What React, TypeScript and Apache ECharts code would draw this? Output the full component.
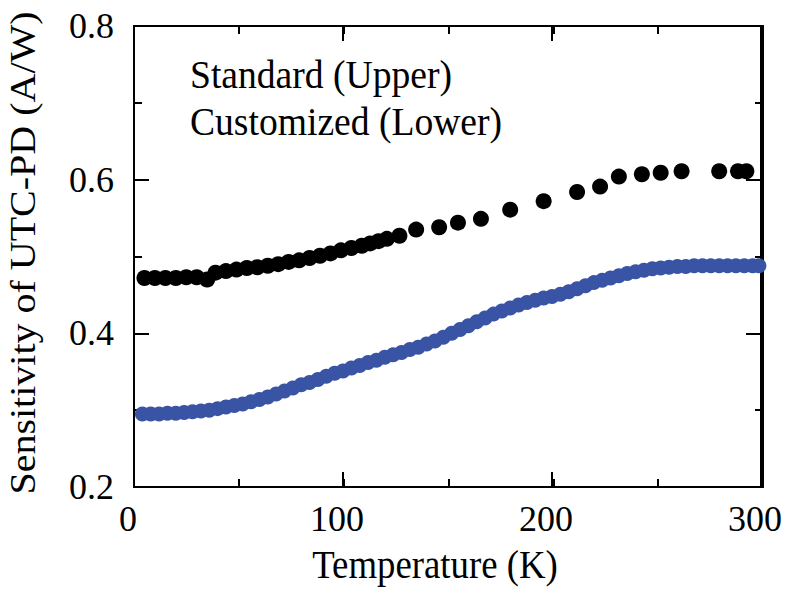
import React, { useEffect, useRef } from "react";
import * as echarts from "echarts";

const standardT = [5, 10, 15, 20, 25, 30, 35, 39, 44, 49, 54, 59, 64, 69, 74, 79, 84, 89, 94, 99, 104, 109, 113, 117, 121, 127, 135, 146, 155, 166, 180, 196, 212, 223, 232, 243, 252, 262, 280, 289, 293];
const standardV = [0.472, 0.472, 0.472, 0.472, 0.473, 0.473, 0.470, 0.479, 0.481, 0.483, 0.485, 0.486, 0.488, 0.490, 0.493, 0.495, 0.498, 0.501, 0.504, 0.508, 0.511, 0.514, 0.517, 0.520, 0.523, 0.527, 0.535, 0.538, 0.544, 0.549, 0.561, 0.572, 0.584, 0.591, 0.604, 0.607, 0.609, 0.611, 0.611, 0.611, 0.611];

const customT = [4, 8, 12, 16, 20, 24, 28, 32, 36, 40, 44, 48, 52, 56, 60, 64, 68, 72, 76, 80, 84, 88, 92, 96, 100, 104, 108, 112, 116, 120, 124, 128, 132, 136, 140, 144, 148, 152, 156, 160, 164, 168, 172, 176, 180, 184, 188, 192, 196, 200, 204, 208, 212, 216, 220, 224, 228, 232, 236, 240, 244, 248, 252, 256, 260, 264, 268, 272, 276, 280, 284, 288, 292, 296, 299];
const customV = [0.295, 0.295, 0.295, 0.296, 0.296, 0.297, 0.298, 0.299, 0.300, 0.302, 0.304, 0.306, 0.308, 0.311, 0.314, 0.317, 0.321, 0.325, 0.329, 0.333, 0.336, 0.340, 0.344, 0.348, 0.351, 0.355, 0.358, 0.362, 0.365, 0.369, 0.372, 0.375, 0.379, 0.382, 0.386, 0.390, 0.395, 0.400, 0.405, 0.410, 0.415, 0.420, 0.425, 0.429, 0.433, 0.437, 0.440, 0.443, 0.446, 0.448, 0.451, 0.454, 0.458, 0.462, 0.466, 0.469, 0.472, 0.475, 0.478, 0.480, 0.482, 0.484, 0.485, 0.486, 0.487, 0.487, 0.488, 0.488, 0.488, 0.488, 0.488, 0.488, 0.488, 0.488, 0.488];

const xTitle = "Temperature (K)";
const yTitle = "Sensitivity of UTC-PD (A/W)";
const legendLabels = ["Standard (Upper)", "Customized (Lower)"];

const FONT = "Liberation Serif";

export default function App() {
  const ref = useRef<HTMLDivElement>(null);
  useEffect(() => {
    if (!ref.current) return;
    const chart = echarts.init(ref.current, undefined, { renderer: "svg" });
    const gridPos = { left: 134, right: 22, top: 26, bottom: 102, containLabel: false };
    const mkLine = () => ({ show: true, onZero: false, lineStyle: { color: "#000", width: 2 } });
    const mkTick = (len: number) => ({ show: true, inside: true, length: len, lineStyle: { color: "#000", width: 2 } });
    const label = { fontFamily: FONT, fontSize: 36, color: "#000" };
    const xAx = (gridIndex: number, position: string, interval: number, len: number, showLabel: boolean) => ({
      type: "value", gridIndex, position, min: 0, max: 300, interval,
      axisLine: mkLine(), axisTick: mkTick(len), splitLine: { show: false },
      axisLabel: showLabel ? { ...label, margin: 14, padding: [0, 12, 0, 0] } : { show: false },
    });
    const yAx = (gridIndex: number, position: string, interval: number, len: number, showLabel: boolean) => ({
      type: "value", gridIndex, position, min: 0.2, max: 0.8, interval,
      axisLine: mkLine(), axisTick: mkTick(len), splitLine: { show: false },
      axisLabel: showLabel ? { ...label, margin: 20, formatter: (v: number) => v.toFixed(1) } : { show: false },
    });
    const txt = (text: string, align: string) => ({
      text, fontFamily: FONT, fontSize: 40, fill: "#000", align, verticalAlign: "middle",
    });
    chart.setOption({
      animation: false,
      backgroundColor: "#fff",
      textStyle: { fontFamily: FONT },
      grid: [{ ...gridPos }, { ...gridPos }],
      xAxis: [
        xAx(0, "bottom", 100, 15, true),
        xAx(0, "top", 100, 15, false),
        xAx(1, "bottom", 50, 8, false),
        xAx(1, "top", 50, 8, false),
      ],
      yAxis: [
        yAx(0, "left", 0.2, 15, true),
        yAx(0, "right", 0.2, 15, false),
        yAx(1, "left", 0.1, 8, false),
        yAx(1, "right", 0.1, 8, false),
      ],
      series: [
        {
          name: legendLabels[0], type: "scatter", symbol: "circle", symbolSize: 16,
          xAxisIndex: 0, yAxisIndex: 0,
          itemStyle: { color: "#000", opacity: 1 },
          data: standardT.map((t, i) => [t, standardV[i]]),
        },
        {
          name: legendLabels[1], type: "scatter", symbol: "circle", symbolSize: 15,
          xAxisIndex: 0, yAxisIndex: 0,
          itemStyle: { color: "#3a54a5", opacity: 1 },
          data: customT.map((t, i) => [t, customV[i]]),
        },
      ],
      graphic: [
        { type: "text", x: 190, y: 74, scaleX: 0.94, style: txt(legendLabels[0], "left") },
        { type: "text", x: 190, y: 121, scaleX: 0.94, style: txt(legendLabels[1], "left") },
        { type: "text", x: 435, y: 564, scaleX: 0.92, style: txt(xTitle, "center") },
        { type: "text", x: 23, y: 253, rotation: Math.PI / 2, scaleY: 0.92, style: txt(yTitle, "center") },
      ],
    });
    return () => chart.dispose();
  }, []);
  return (
    <div
      ref={ref}
      style={{ position: "fixed", left: 0, top: 0, width: 785, height: 589, background: "#fff" }}
    />
  );
}
